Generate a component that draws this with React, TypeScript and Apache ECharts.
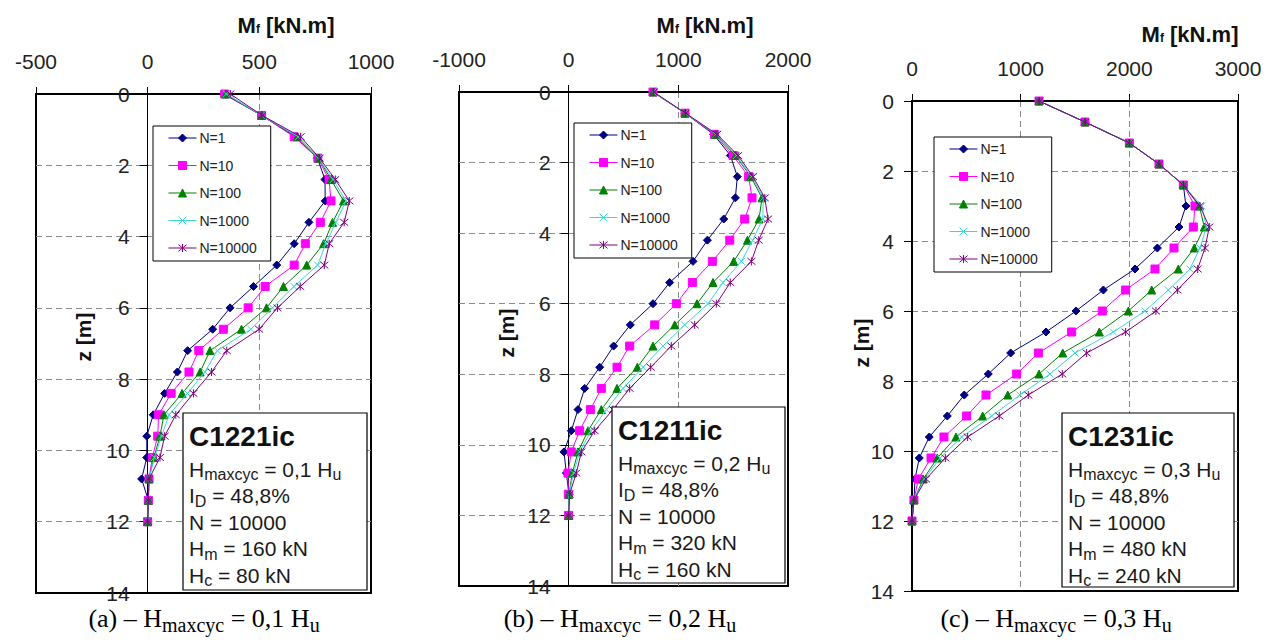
import React, { useEffect, useRef } from "react";
import * as echarts from "echarts";

// ---------------- data ----------------
const DEPTH = [0, 0.6, 1.2, 1.8, 2.4, 3.0, 3.6, 4.2, 4.8, 5.4, 6.0, 6.6, 7.2, 7.8, 8.4, 9.0, 9.6, 10.2, 10.8, 11.4, 12.0];
const SERIES_NAMES = ["N=1", "N=10", "N=100", "N=1000", "N=10000"];
const Y_TICKS = [0, 2, 4, 6, 8, 10, 12, 14];

// (a) C1221ic
const X_TICKS_A = [-500, 0, 500, 1000];
const A_N1 = [340, 510, 660, 760, 794, 795, 722, 656, 578, 474, 369, 291, 179, 133, 76, 25, -4, -4, -27, 3, 0];
const A_N10 = [345, 510, 656, 762, 812, 821, 773, 706, 656, 526, 450, 339, 229, 185, 105, 49, 45, 21, 6, 3, 0];
const A_N100 = [350, 510, 670, 765, 821, 877, 828, 788, 712, 608, 532, 420, 279, 235, 154, 73, 55, 28, 6, 3, 0];
const A_N1000 = [352, 510, 675, 765, 830, 888, 843, 798, 761, 655, 559, 462, 312, 256, 178, 96, 62, 30, 6, 3, 0];
const A_N10000 = [370, 512, 685, 770, 840, 903, 880, 813, 791, 683, 581, 499, 354, 286, 205, 126, 76, 55, 6, 3, 0];

// (b) C1211ic
const X_TICKS_B = [-1000, 0, 1000, 2000];
const B_N1 = [769, 1061, 1322, 1475, 1538, 1520, 1414, 1265, 1134, 921, 769, 562, 410, 283, 146, 85, 24, -43, -21, 3, 0];
const B_N10 = [769, 1061, 1330, 1499, 1641, 1672, 1605, 1469, 1310, 1128, 982, 784, 556, 441, 298, 198, 100, 24, -6, -3, 0];
const B_N100 = [769, 1061, 1340, 1520, 1660, 1763, 1736, 1630, 1505, 1316, 1170, 967, 769, 626, 441, 298, 176, 85, 33, 3, 0];
const B_N1000 = [769, 1061, 1345, 1530, 1670, 1775, 1770, 1678, 1575, 1407, 1271, 1058, 860, 678, 495, 344, 205, 100, 45, 3, 0];
const B_N10000 = [775, 1065, 1353, 1545, 1681, 1788, 1818, 1733, 1666, 1474, 1347, 1149, 936, 748, 556, 404, 237, 116, 70, 8, 0];

// (c) C1231ic
const X_TICKS_C = [0, 1000, 2000, 3000];
const C_N1 = [1169, 1592, 2000, 2273, 2497, 2521, 2457, 2258, 2052, 1761, 1509, 1233, 908, 702, 481, 325, 159, 67, 28, 18, 0];
const C_N10 = [1169, 1592, 2000, 2273, 2497, 2604, 2589, 2411, 2236, 1966, 1751, 1469, 1163, 963, 681, 503, 294, 175, 58, 18, 0];
const C_N100 = [1169, 1592, 2000, 2273, 2497, 2644, 2690, 2598, 2451, 2206, 1991, 1724, 1387, 1169, 881, 650, 405, 233, 104, 18, 0];
const C_N1000 = [1169, 1592, 2000, 2273, 2497, 2666, 2710, 2650, 2558, 2359, 2144, 1853, 1500, 1270, 994, 733, 457, 258, 115, 18, 0];
const C_N10000 = [1169, 1592, 2000, 2273, 2497, 2650, 2736, 2696, 2629, 2442, 2245, 1966, 1607, 1383, 1070, 803, 512, 307, 129, 18, 0];

// texts
const AXIS_TITLE_MAIN = "M";
const AXIS_TITLE_SUB = "f";
const AXIS_TITLE_REST = "\u00a0[kN.m]";
const Y_TITLE = "z [m]";
const BOX_TITLES = ["C1221ic", "C1211ic", "C1231ic"];
const H_RATIOS = ["0,1", "0,2", "0,3"];
const ID_TEXT = "48,8%";
const N_TEXT = "N = 10000";
const HM_VALUES = ["160 kN", "320 kN", "480 kN"];
const HC_VALUES = ["80 kN", "160 kN", "240 kN"];
const CAPTION_LETTERS = ["(a)", "(b)", "(c)"];

// ---------------- styles / layout ----------------
const SANS = "'Liberation Sans', Arial, sans-serif";
const SERIF = "'Liberation Serif', 'Times New Roman', serif";
const CROSS = "path://M0,0L10,10M10,0L0,10";
const STAR = "path://M0,0L10,10M10,0L0,10M5,-1L5,11";
const SERIES_STYLE = [
  { color: "#000080", symbol: "diamond", size: 8 },
  { color: "#ff00ff", symbol: "rect", size: 8 },
  { color: "#008000", symbol: "triangle", size: 8 },
  { color: "#3fd6d6", symbol: CROSS, size: 7 },
  { color: "#800080", symbol: STAR, size: 8 },
];

const PANELS = [
  {
    values: [A_N1, A_N10, A_N100, A_N1000, A_N10000],
    xTicks: X_TICKS_A,
    grid: { left: 36, top: 94, width: 335, height: 499 },
    legend: { left: 153, top: 126 },
    box: { x: 183, y: 413, w: 184, h: 177 },
    title: { x: 286, baseline: 33 },
    yTitle: { x: 83, y: 337 },
    caption: { x: 204, baseline: 627 },
  },
  {
    values: [B_N1, B_N10, B_N100, B_N1000, B_N10000],
    xTicks: X_TICKS_B,
    grid: { left: 459, top: 92, width: 329, height: 494 },
    legend: { left: 574, top: 123 },
    box: { x: 612, y: 407, w: 173, h: 176 },
    title: { x: 705, baseline: 33 },
    yTitle: { x: 506, y: 333 },
    caption: { x: 620, baseline: 627 },
  },
  {
    values: [C_N1, C_N10, C_N100, C_N1000, C_N10000],
    xTicks: X_TICKS_C,
    grid: { left: 912, top: 101, width: 326, height: 490 },
    legend: { left: 934, top: 137 },
    box: { x: 1062, y: 413, w: 172, h: 174 },
    title: { x: 1190, baseline: 42 },
    yTitle: { x: 861, y: 343 },
    caption: { x: 1056, baseline: 627 },
  },
];

function buildOption() {
  const grids: any[] = [];
  const xAxes: any[] = [];
  const yAxes: any[] = [];
  const series: any[] = [];
  const legends: any[] = [];
  const graphics: any[] = [];

  PANELS.forEach((p, i) => {
    grids.push({
      ...p.grid,
      show: true,
      borderColor: "#000",
      borderWidth: 2,
      backgroundColor: "#fff",
      containLabel: false,
      outerBoundsMode: "none",
    });
    const xt = p.xTicks;
    const xmin = xt[0];
    const xmax = xt[xt.length - 1];
    // y axis sits on the x = 0 line: shift it inward from the grid's left edge
    const zeroOffset = ((0 - xmin) / (xmax - xmin)) * p.grid.width;
    xAxes.push({
      type: "value",
      gridIndex: i,
      position: "top",
      min: xmin,
      max: xmax,
      interval: xt[1] - xt[0],
      axisLine: { onZero: false, lineStyle: { color: "#000", width: 2 } },
      axisTick: { show: true, inside: false, length: 7, lineStyle: { color: "#000", width: 1 } },
      axisLabel: {
        color: "#222",
        fontSize: 21,
        fontFamily: SANS,
        margin: 22,
        formatter: (v: number) => String(v),
      },
      splitLine: {
        show: true,
        showMinLine: false,
        showMaxLine: false,
        lineStyle: { color: "#8a8a8a", type: [6, 4], width: 1 },
      },
    });
    yAxes.push({
      type: "value",
      gridIndex: i,
      inverse: true,
      position: "left",
      offset: -zeroOffset,
      min: Y_TICKS[0],
      max: Y_TICKS[Y_TICKS.length - 1],
      interval: Y_TICKS[1] - Y_TICKS[0],
      axisLine: { show: true, onZero: false, lineStyle: { color: "#000", width: 1 } },
      axisTick: { show: true, inside: false, length: 8, lineStyle: { color: "#000", width: 1 } },
      axisLabel: {
        color: "#222",
        fontSize: 21,
        fontFamily: SANS,
        margin: 18,
        formatter: (v: number) => String(v),
      },
      splitLine: {
        show: true,
        showMinLine: false,
        showMaxLine: false,
        lineStyle: { color: "#8a8a8a", type: [6, 4], width: 1 },
      },
    });
    p.values.forEach((vals, k) => {
      const st = SERIES_STYLE[k];
      series.push({
        type: "line",
        name: SERIES_NAMES[k],
        xAxisIndex: i,
        yAxisIndex: i,
        data: vals.map((v, j) => [v, DEPTH[j]]),
        symbol: st.symbol,
        symbolSize: st.size,
        showSymbol: true,
        showAllSymbol: true,
        color: st.color,
        lineStyle: { color: st.color, width: 1 },
        itemStyle: { color: st.color, borderColor: st.color, borderWidth: 1 },
        emphasis: { disabled: true },
        silent: true,
        z: 3 + k,
      });
    });
    legends.push({
      data: SERIES_NAMES,
      orient: "vertical",
      left: p.legend.left,
      top: p.legend.top,
      padding: [5, 14, 6, 15],
      itemWidth: 28,
      itemHeight: 10,
      itemGap: 13.5,
      backgroundColor: "#fff",
      borderColor: "#000",
      borderWidth: 1,
      borderRadius: 0,
      selectedMode: false,
      itemStyle: { borderWidth: 1 },
      lineStyle: { width: 1 },
      textStyle: { fontSize: 14, color: "#222", fontFamily: SANS, padding: [0, 0, 0, -2] },
      z: 20,
    });

    // axis title "Mf [kN.m]"
    graphics.push({
      type: "text",
      x: p.title.x,
      y: p.title.baseline - 18.6,
      z: 100,
      style: {
        text: `{b|${AXIS_TITLE_MAIN}}{bs|${AXIS_TITLE_SUB}}{b|${AXIS_TITLE_REST}}`,
        align: "center",
        textAlign: "center",
        verticalAlign: "top",
        textVerticalAlign: "top",
        fill: "#111",
        rich: {
          b: { fontSize: 22, fontWeight: "bold", fontFamily: SANS, verticalAlign: "top", fill: "#111" },
          bs: { fontSize: 12, fontWeight: "bold", fontFamily: SANS, verticalAlign: "top", padding: [9, 0, 0, 0], fill: "#111" },
        },
      },
    });
    // y title
    graphics.push({
      type: "text",
      x: p.yTitle.x,
      y: p.yTitle.y,
      rotation: Math.PI / 2,
      z: 100,
      style: {
        text: Y_TITLE,
        fontSize: 21,
        fontWeight: "bold",
        fontFamily: SANS,
        fill: "#111",
        align: "center",
        textAlign: "center",
        verticalAlign: "middle",
        textVerticalAlign: "middle",
      },
    });
    // info box
    const b = p.box;
    graphics.push({
      type: "rect",
      z: 100,
      shape: { x: b.x, y: b.y, width: b.w, height: b.h },
      style: { fill: "#fff", stroke: "#000", lineWidth: 1.2 },
    });
    graphics.push({
      type: "text",
      x: b.x + 6,
      y: b.y + 33 - 0.3465 * 28 - 14,
      z: 101,
      style: {
        text: BOX_TITLES[i],
        fontSize: 28,
        fontWeight: "bold",
        fontFamily: SANS,
        fill: "#111",
        align: "left",
        textAlign: "left",
        verticalAlign: "top",
        textVerticalAlign: "top",
      },
    });
    const NB = "\u00a0";
    const lines = [
      `{n|H}{s|maxcyc}{n|${NB}=${NB}${H_RATIOS[i]}${NB}H}{s|u}`,
      `{n|I}{s|D}{n|${NB}=${NB}${ID_TEXT}}`,
      `{n|${N_TEXT.replace(/ /g, NB)}}`,
      `{n|H}{s|m}{n|${NB}=${NB}${HM_VALUES[i].replace(/ /g, NB)}}`,
      `{n|H}{s|c}{n|${NB}=${NB}${HC_VALUES[i].replace(/ /g, NB)}}`,
    ];
    const offsets = [63.5, 90, 116.5, 143, 169.5];
    lines.forEach((t, k) => {
      graphics.push({
        type: "text",
        x: b.x + 6,
        y: b.y + offsets[k] - 17.8,
        z: 101,
        style: {
          text: t,
          align: "left",
          textAlign: "left",
          verticalAlign: "top",
          textVerticalAlign: "top",
          fill: "#1a1a1a",
          rich: {
            n: { fontSize: 21, fontFamily: SANS, verticalAlign: "top", fill: "#1a1a1a" },
            s: { fontSize: 16, fontFamily: SANS, verticalAlign: "top", padding: [8, 0, 0, 0], fill: "#1a1a1a" },
          },
        },
      });
    });
    // caption
    graphics.push({
      type: "text",
      x: p.caption.x,
      y: p.caption.baseline - 21.8,
      z: 101,
      style: {
        text: `{n|${CAPTION_LETTERS[i]}${NB}\u2013${NB}H}{s|maxcyc}{n|${NB}=${NB}${H_RATIOS[i]}${NB}H}{s|u}`,
        align: "center",
        textAlign: "center",
        verticalAlign: "top",
        textVerticalAlign: "top",
        fill: "#000",
        rich: {
          n: { fontSize: 26, fontFamily: SERIF, verticalAlign: "top", fill: "#000" },
          s: { fontSize: 20, fontFamily: SERIF, verticalAlign: "top", padding: [10, 0, 0, 0], fill: "#000" },
        },
      },
    });
  });

  return {
    animation: false,
    backgroundColor: "#fff",
    grid: grids,
    xAxis: xAxes,
    yAxis: yAxes,
    legend: legends,
    series,
    graphic: { elements: graphics },
  };
}

export default function App() {
  const ref = useRef<HTMLDivElement>(null);
  useEffect(() => {
    if (!ref.current) return;
    const chart = echarts.init(ref.current, null, { renderer: "svg" });
    chart.setOption(buildOption() as any);
    return () => chart.dispose();
  }, []);
  return (
    <div
      ref={ref}
      style={{ position: "absolute", left: 0, top: 0, width: 1277, height: 641, background: "#fff" }}
    />
  );
}
